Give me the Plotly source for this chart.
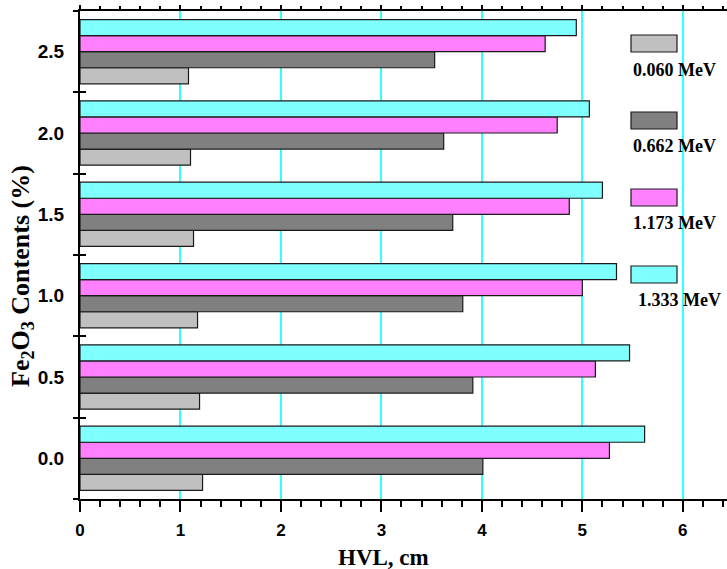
import plotly.graph_objects as go

# ---- data ----
categories = [0.0, 0.5, 1.0, 1.5, 2.0, 2.5]
category_labels = ["0.0", "0.5", "1.0", "1.5", "2.0", "2.5"]
series_names = ["0.060 MeV", "0.662 MeV", "1.173 MeV", "1.333 MeV"]
hvl_0060 = [1.22, 1.19, 1.17, 1.13, 1.10, 1.08]
hvl_0662 = [4.01, 3.91, 3.81, 3.71, 3.62, 3.53]
hvl_1173 = [5.27, 5.13, 5.00, 4.87, 4.75, 4.63]
hvl_1333 = [5.62, 5.47, 5.34, 5.20, 5.07, 4.94]
x_ticks = [0, 1, 2, 3, 4, 5, 6]

colors = ["#C0C0C0", "#808080", "#FF80FF", "#80FFFF"]
values = [hvl_0060, hvl_0662, hvl_1173, hvl_1333]

W, H = 727, 569
ML, MR, MT, MB = 80, 0, 11, 70
PW, PH = W - ML - MR, H - MT - MB

def dx(px):
    return (px - ML) / PW

def dy(py):
    return (H - MB - py) / PH

serif = "Liberation Serif, Times New Roman, serif"
sans = "Liberation Sans, Arial, sans-serif"

fig = go.Figure()
for name, vals, col in zip(series_names, values, colors):
    fig.add_trace(go.Bar(
        y=categories, x=vals, orientation="h", name=name,
        marker=dict(color=col, line=dict(color="#1a1a1a", width=1.2)),
        showlegend=False,
    ))

half = (categories[1] - categories[0]) / 2
boundaries = [c - half for c in categories] + [categories[-1] + half]
x_range = [0, 6.44]
y_range = [boundaries[0], boundaries[-1]]

# invisible helper traces so the overlay axes (top frame, boundary ticks) are drawn
for xa, ya in [("x2", "y"), ("x", "y2"), ("x", "y3")]:
    fig.add_trace(go.Scatter(x=[None], y=[None], xaxis=xa, yaxis=ya, mode="markers",
                             showlegend=False, hoverinfo="skip"))

fig.update_layout(
    width=W, height=H,
    margin=dict(l=ML, r=MR, t=MT, b=MB),
    paper_bgcolor="white", plot_bgcolor="white",
    barmode="group", bargap=0.21, bargroupgap=0,
    xaxis=dict(
        range=x_range, tickvals=x_ticks,
        showline=True, linecolor="black", linewidth=2,
        ticks="outside", ticklen=11, tickwidth=2, tickcolor="black",
        minor=dict(ticks="outside", ticklen=6, tickwidth=2, tickcolor="black",
                   dtick=0.2, tick0=0, showgrid=False),
        showgrid=True, gridcolor="#33FFFF", gridwidth=1.5,
        zeroline=False,
        tickfont=dict(family=sans, size=17, color="black", weight="bold"),
        ticklabelstandoff=4,
    ),
    xaxis2=dict(
        overlaying="x", side="top", anchor="y", range=x_range, tickvals=x_ticks,
        showline=True, linecolor="black", linewidth=2,
        ticks="outside", ticklen=4, tickwidth=2, tickcolor="black",
        minor=dict(ticks="outside", ticklen=3, tickwidth=2, tickcolor="black",
                   dtick=0.2, tick0=0, showgrid=False),
        showgrid=False, zeroline=False, showticklabels=False,
    ),
    yaxis=dict(
        range=y_range,
        tickvals=categories, ticktext=category_labels,
        showline=True, linecolor="black", linewidth=2,
        ticks="", showgrid=False, zeroline=False,
        tickfont=dict(family=sans, size=19, color="black", weight="bold"),
        ticklabelstandoff=10,
    ),
    yaxis2=dict(
        overlaying="y", side="left", anchor="x", range=y_range,
        tickvals=boundaries, showticklabels=False,
        ticks="outside", ticklen=6, tickwidth=2, tickcolor="black",
        showline=False, showgrid=False, zeroline=False,
    ),
    yaxis3=dict(
        overlaying="y", side="left", anchor="x", range=y_range,
        tickvals=boundaries, showticklabels=False,
        ticks="inside", ticklen=6, tickwidth=2, tickcolor="black",
        showline=False, showgrid=False, zeroline=False,
    ),
)

# white backing of the legend block (covers grid lines)
fig.add_shape(type="rect", xref="x domain", yref="y domain",
              x0=dx(622), x1=1.0, y0=dy(317), y1=dy(23),
              fillcolor="white", line=dict(width=0), layer="below")

# legend: swatch above label
swatch_top = [35, 112, 189, 266]
text_mid = [70, 146, 223, 300]
text_left = [631, 631, 631, 636]
for name, col, st, tm, tl in zip(series_names, colors, swatch_top, text_mid, text_left):
    fig.add_shape(type="rect", xref="x domain", yref="y domain",
                  x0=dx(631), x1=dx(677), y0=dy(st + 17), y1=dy(st),
                  fillcolor=col, line=dict(color="#1a1a1a", width=1.2), layer="above")
    fig.add_annotation(xref="x domain", yref="y domain", x=dx(tl), y=dy(tm),
                       xanchor="left", yanchor="middle", showarrow=False,
                       text=name, font=dict(family=serif, size=18, color="black", weight="bold"))

# axis titles
fig.add_annotation(xref="x domain", yref="y domain", x=dx(383), y=dy(557),
                   xanchor="center", yanchor="middle", showarrow=False,
                   text="HVL, cm", font=dict(family=serif, size=23, color="black", weight="bold"))
fig.add_annotation(xref="x domain", yref="y domain", x=dx(22), y=dy(276),
                   xanchor="center", yanchor="middle", showarrow=False, textangle=-90,
                   text="Fe<sub>2</sub>O<sub>3</sub> Contents (%)",
                   font=dict(family=serif, size=26, color="black", weight="bold"))

fig.write_html("out.html")
